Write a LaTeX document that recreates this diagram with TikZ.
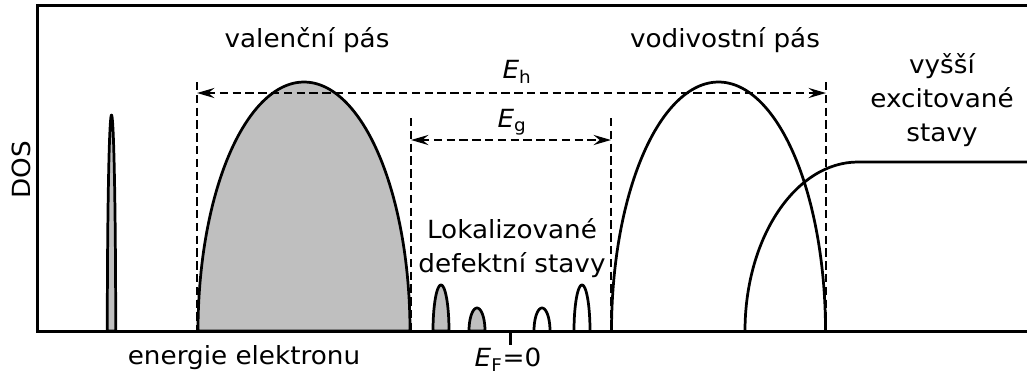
\documentclass[tikz,border=0pt]{standalone}
\usepackage{fontspec}
\setmainfont[FakeStretch=1.05]{DejaVu Sans}
\usetikzlibrary{arrows.meta}
\definecolor{bandgray}{RGB}{191,191,191}
\begin{document}
\begin{tikzpicture}[x=0.75pt,y=-0.75pt,
  lbl/.style={font=\fontsize{18.75}{25.5}\selectfont, inner sep=0pt, align=center},
  band/.style={line width=2.05pt, line join=round},
  filled/.style={band, fill=bandgray},
  frame/.style={line width=2.25pt},
  guide/.style={line width=1.9pt, dash pattern=on 6.3pt off 3.3pt},
  gaparrow/.style={guide, {Stealth[length=13pt,width=7.5pt,inset=4.5pt]}-{Stealth[length=13pt,width=7.5pt,inset=4.5pt]}}]
\useasboundingbox (0,0) rectangle (1027,379);
% bands
\filldraw[filled] plot[domain=180:360,samples=120,smooth] ({111.5+4.2*cos(\x)},{331+216*sin(\x)}) -- cycle;
\filldraw[filled] plot[domain=180:360,samples=120,smooth] ({304+106*cos(\x)},{331+249*sin(\x)}) -- cycle;
\draw[band] plot[domain=180:360,samples=120,smooth] ({718.5+107*cos(\x)},{331+249*sin(\x)});
\filldraw[filled] plot[domain=180:360,samples=60,smooth] ({441+8*cos(\x)},{331+46*sin(\x)}) -- cycle;
\filldraw[filled] plot[domain=180:360,samples=60,smooth] ({477+8*cos(\x)},{331+23*sin(\x)}) -- cycle;
\draw[band] plot[domain=180:360,samples=60,smooth] ({542+8*cos(\x)},{331+23*sin(\x)});
\draw[band] plot[domain=180:360,samples=60,smooth] ({582+8*cos(\x)},{331+46*sin(\x)});
% higher excited states
\coordinate (xs) at (745,331);
\coordinate (xe) at (1027,162);
\draw[band] (xs) arc[start angle=180, end angle=90, x radius=113, y radius=-169] -- (xe);
% frame
\coordinate (fr1) at (1027,5);
\coordinate (fr2) at (37,5);
\coordinate (fr3) at (37,331);
\coordinate (fr4) at (1027,331);
\draw[frame] (fr1) -- (fr2) -- (fr3) -- (fr4);
% guides
\coordinate (hLt) at (197,82);  \coordinate (hLb) at (197,331);
\coordinate (gLt) at (411,118); \coordinate (gLb) at (411,331);
\coordinate (gRt) at (611,118); \coordinate (gRb) at (611,331);
\coordinate (hRt) at (826,82);  \coordinate (hRb) at (826,331);
\draw[guide] (hLt) -- (hLb);
\draw[guide] (gLt) -- (gLb);
\draw[guide] (gRt) -- (gRb);
\draw[guide] (hRt) -- (hRb);
\coordinate (hA) at (197,93);  \coordinate (hB) at (826,93);
\coordinate (gA) at (411,140); \coordinate (gB) at (611,140);
\draw[gaparrow] (hA) -- (hB);
\draw[gaparrow] (gA) -- (gB);
% tick
\coordinate (tk) at (510,331);
\coordinate (tkb) at (510,345);
\draw[frame] (tk) -- (tkb);
% labels
\node[lbl] (val) at (307,40) {valenční pás};
\node[lbl] (cond) at (725,40) {vodivostní pás};
\node[lbl] (Eh) at (517,72) {\textit{E}\textsubscript{h}};
\node[lbl] (Eg) at (512,122) {\textit{E}\textsubscript{g}};
\node[lbl, rotate=90] (dos) at (21,170) {DOS};
\node[lbl] (en) at (244,358) {energie elektronu};
\node[lbl] (ef) at (508,360) {\textit{E}\textsubscript{F}=0};
\node[lbl] (loc) at (512,248) {Lokalizované\\defektní stavy};
\node[lbl] (exc) at (942,100) {vyšší\\excitované\\stavy};
\end{tikzpicture}
\end{document}
